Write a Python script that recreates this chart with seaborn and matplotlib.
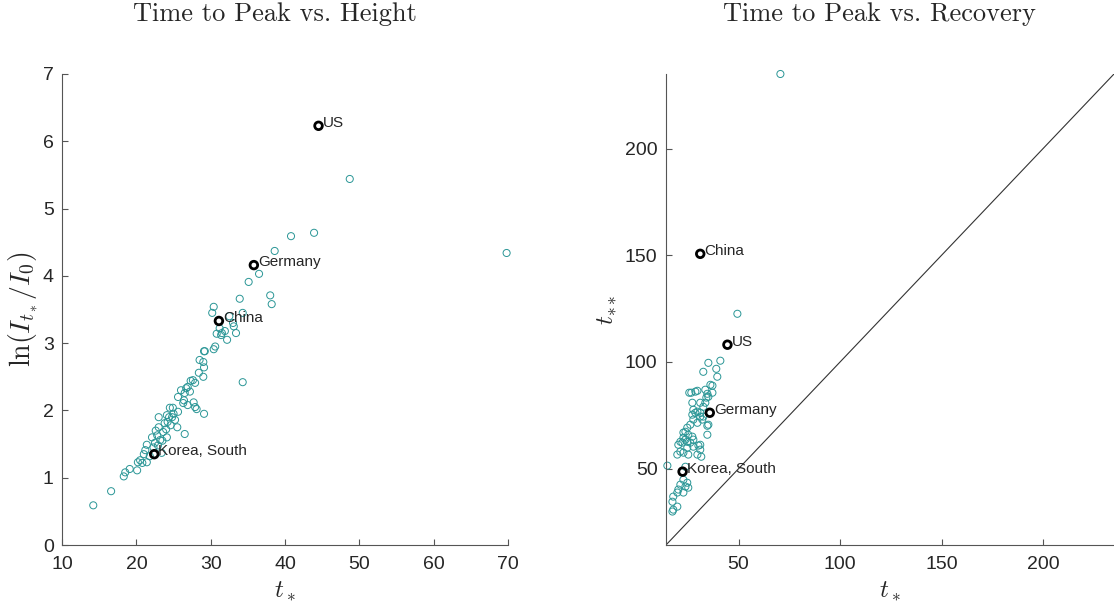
import numpy as np
import pandas as pd
import matplotlib
matplotlib.use('Agg')
import matplotlib.pyplot as plt
import seaborn as sns

# time to peak t* vs log peak height ln(I_t*/I_0), all countries
height_tstar = [14.2, 16.6, 18.3, 18.5, 19.1, 20.1, 20.5, 20.8, 20.2, 21.4, 21.2, 21.4,
                22.1, 22.8, 22.5, 23.2, 24.1, 23.4, 26.5, 23.0, 23.0, 23.8, 24.2, 25.2,
                25.5, 24.4, 24.8, 24.1, 25.6, 24.5, 24.9, 29.1, 25.6, 26.4, 26.3, 26.9,
                27.7, 27.9, 28.1, 27.3, 27.6, 27.9, 26.9, 26.7, 26.5, 28.4, 29.0, 28.5,
                29.0, 29.1, 29.1, 29.2, 30.4, 31.2, 31.5, 30.8, 31.4, 32.2, 33.4, 33.0,
                34.3, 30.2, 30.4, 33.9, 35.1, 38.0, 38.2, 34.3, 48.7, 40.8, 43.9, 38.6,
                36.5, 69.8, 32.5, 33.1, 21.8, 22.3, 22.9, 23.6, 22.6, 24.0, 24.6, 23.5,
                26.0, 27.2, 21.0, 25.0, 31.9, 30.6]
height_ln = [0.59, 0.80, 1.02, 1.08, 1.13, 1.11, 1.26, 1.22, 1.23, 1.23, 1.41, 1.49,
             1.60, 1.63, 1.52, 1.56, 1.60, 1.37, 1.65, 1.75, 1.90, 1.81, 1.83, 1.86,
             1.75, 1.90, 1.90, 1.93, 1.98, 2.04, 2.04, 1.95, 2.20, 2.15, 2.11, 2.08,
             2.12, 2.05, 2.02, 2.44, 2.45, 2.41, 2.35, 2.33, 2.26, 2.56, 2.50, 2.75,
             2.72, 2.64, 2.88, 2.88, 2.91, 3.22, 3.15, 3.14, 3.12, 3.05, 3.15, 3.30,
             3.45, 3.45, 3.54, 3.66, 3.91, 3.71, 3.58, 2.42, 5.44, 4.59, 4.64, 4.37,
             4.03, 4.34, 3.40, 3.25, 1.32, 1.45, 1.48, 1.68, 1.70, 1.72, 1.78, 1.55,
             2.30, 2.28, 1.35, 1.95, 3.18, 2.95]

# time to peak t* vs recovery time t**
recov_tstar = [70.6, 49.4, 41.0, 35.1, 32.6, 39.0, 39.5, 36.1, 37.1, 34.6, 34.1, 33.6,
               32.6, 29.7, 26.7, 27.2, 27.7, 28.7, 31.1, 32.1, 34.6, 24.7, 22.8, 25.2,
               27.2, 23.8, 21.3, 26.2, 24.7, 27.7, 20.3, 21.3, 22.8, 19.8, 25.2, 30.2,
               31.1, 31.6, 29.7, 14.9, 23.8, 22.8, 24.7, 21.3, 23.8, 25.2, 20.3, 19.8,
               22.8, 17.8, 17.4, 19.8, 17.8, 17.4, 28.7, 25.7, 33.6, 37.1, 31.1, 35.1,
               29.7, 27.2, 31.1, 32.6, 27.7, 26.2, 29.7, 23.8, 22.8, 22.3, 24.7, 27.7,
               31.1, 35.1, 34.6]
recov_tstarstar = [235.0, 122.6, 100.6, 99.6, 95.4, 96.8, 93.1, 89.3, 88.9, 85.1, 83.3, 80.9,
                   79.0, 86.5, 85.6, 80.9, 77.6, 76.2, 74.4, 73.0, 70.1, 69.2, 66.9, 65.9,
                   65.0, 63.6, 62.6, 62.2, 59.8, 60.3, 61.2, 58.0, 57.5, 56.6, 56.6, 60.8,
                   58.9, 55.6, 56.6, 51.4, 50.9, 44.8, 43.4, 42.5, 41.6, 41.1, 40.2, 38.8,
                   38.8, 36.9, 34.5, 32.2, 30.8, 29.9, 86.1, 85.6, 87.0, 85.6, 80.9, 83.7,
                   76.7, 75.3, 76.2, 74.4, 73.0, 70.6, 71.5, 67.3, 64.5, 62.2, 62.6, 63.6,
                   61.2, 70.6, 65.9]

# highlighted countries
countries = ['US', 'Germany', 'China', 'Korea, South']
country_tstar = [44.5, 35.8, 31.1, 22.4]
country_ln = [6.23, 4.16, 3.33, 1.35]
country_recov = [108.1, 76.2, 150.7, 48.6]

teal = '#2a9696'

sns.set_style('ticks')
plt.rcParams['font.family'] = ['Liberation Sans', 'DejaVu Sans']
plt.rcParams['mathtext.fontset'] = 'cm'
plt.rcParams['xtick.direction'] = 'in'
plt.rcParams['ytick.direction'] = 'in'

fig = plt.figure(figsize=(11.14, 6.07), dpi=100)
ax1 = fig.add_axes([0.0557, 0.1021, 0.4004, 0.776])
ax2 = fig.add_axes([0.5978, 0.1021, 0.4022, 0.776])

h_df = pd.DataFrame({'tstar': height_tstar, 'ln': height_ln})
r_df = pd.DataFrame({'tstar': recov_tstar, 'trec': recov_tstarstar})
c_df = pd.DataFrame({'country': countries, 'tstar': country_tstar,
                     'ln': country_ln, 'trec': country_recov})


def style_axes(ax):
    sns.despine(ax=ax)
    for side in ['left', 'bottom']:
        ax.spines[side].set_color('#555555')
        ax.spines[side].set_linewidth(0.8)
    ax.tick_params(labelsize=14, colors='#555555', labelcolor='#262626',
                   length=4, width=0.8)
    ax.tick_params(axis='x', pad=8)
    ax.tick_params(axis='y', pad=6)


def label_countries(ax, ycol):
    for _, row in c_df.iterrows():
        ax.annotate(row['country'], (row['tstar'], row[ycol]), xytext=(3, 2),
                    textcoords='offset points', fontsize=11, va='center', ha='left')


# left panel
sns.scatterplot(data=h_df, x='tstar', y='ln', ax=ax1, marker='o', s=26,
                facecolor='none', edgecolor=teal, linewidth=0.7, clip_on=False)
sns.scatterplot(data=c_df, x='tstar', y='ln', ax=ax1, marker='o', s=30,
                facecolor='none', edgecolor='black', linewidth=2, clip_on=False)
label_countries(ax1, 'ln')
ax1.set_xlim(10, 70)
ax1.set_ylim(0, 7)
ax1.set_xticks(range(10, 71, 10))
ax1.set_yticks(range(0, 8))
ax1.set_xlabel(r'$t_*$', fontsize=18, labelpad=4)
ax1.set_ylabel(r'$\ln(I_{t_*}/I_0)$', fontsize=20, labelpad=2)
ax1.set_title('Time to Peak vs. Height', fontfamily='cmr10', fontsize=19,
              pad=38, x=0.477)
style_axes(ax1)

# right panel
sns.scatterplot(data=r_df, x='tstar', y='trec', ax=ax2, marker='o', s=26,
                facecolor='none', edgecolor=teal, linewidth=0.7, clip_on=False)
sns.scatterplot(data=c_df, x='tstar', y='trec', ax=ax2, marker='o', s=30,
                facecolor='none', edgecolor='black', linewidth=2, clip_on=False)
label_countries(ax2, 'trec')
lo = min(height_tstar)
hi = max(recov_tstarstar)
ax2.axline((lo, lo), slope=1, color='#333333', linewidth=0.8)
ax2.set_xlim(lo, hi)
ax2.set_ylim(lo, hi)
ax2.set_xticks([50, 100, 150, 200])
ax2.set_yticks([50, 100, 150, 200])
ax2.set_xlabel(r'$t_*$', fontsize=18, labelpad=4)
ax2.set_ylabel(r'$t_{**}$', fontsize=18, labelpad=4)
ax2.set_title('Time to Peak vs. Recovery', fontfamily='cmr10', fontsize=19,
              pad=38, x=0.477)
style_axes(ax2)

fig.savefig('out.png', dpi=100)
